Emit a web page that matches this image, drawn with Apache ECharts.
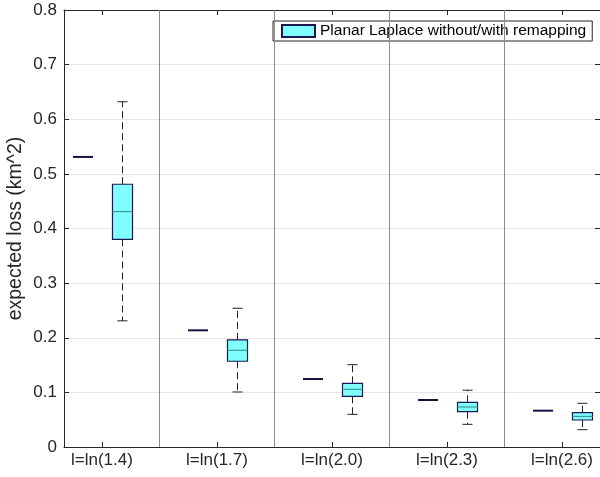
<!DOCTYPE html>
<html>
<head>
<meta charset="utf-8">
<script src="https://cdn.jsdelivr.net/npm/echarts@6/dist/echarts.min.js"></script>
<style>html,body{margin:0;padding:0;background:#fff}#c{width:600px;height:477px}</style>
</head>
<body>
<div id="c"></div>
<script>
const categories = ['l=ln(1.4)', 'l=ln(1.7)', 'l=ln(2.0)', 'l=ln(2.3)', 'l=ln(2.6)'];
const withoutRemap = [0.531, 0.2136, 0.1245, 0.086, 0.0665];
const whiskerLow  = [0.231, 0.1007, 0.0598, 0.0415, 0.0317];
const q1          = [0.380, 0.157, 0.0928, 0.0646, 0.0494];
const median      = [0.431, 0.177, 0.1056, 0.0732, 0.056];
const q3          = [0.481, 0.196, 0.1166, 0.0818, 0.0628];
const whiskerHigh = [0.632, 0.254, 0.1507, 0.104, 0.080];
const legendName = 'Planar Laplace without/with remapping';

const FONT = 'Liberation Sans, Arial, Helvetica, sans-serif';
const TXT = '#262626';
const idx = categories.map((c, i) => i);
const separators = idx.slice(1).map(i => ({ xAxis: i - 0.5 }));

const boxOffset = 0.174, boxHalf = 0.087, lineOffset = -0.165, lineHalf = 0.087;

const boxData = idx.map(i => [i, whiskerLow[i], q1[i], median[i], q3[i], whiskerHigh[i]]);
const lineData = idx.map(i => [i, withoutRemap[i]]);

const chart = echarts.init(document.getElementById('c'));
chart.setOption({
  animation: false,
  backgroundColor: '#fff',
  grid: { left: 64, right: 0, top: 10, bottom: 30, containLabel: false, outerBoundsMode: 'none' },
  legend: {
    data: [{ name: legendName, icon: 'rect' }],
    left: 273, top: 21,
    itemWidth: 33, itemHeight: 12,
    padding: [2, 6, 2, 8],
    borderColor: TXT, borderWidth: 1, borderRadius: 0,
    backgroundColor: '#fff',
    textStyle: { fontSize: 15.5, fontFamily: FONT, color: '#000' }
  },
  xAxis: [{
    type: 'value', min: -0.33, max: 4.33, position: 'bottom',
    axisLine: { show: true, onZero: false, lineStyle: { color: TXT } },
    axisTick: { show: true, inside: true, length: 5, customValues: idx, lineStyle: { color: TXT } },
    axisLabel: { show: true, customValues: idx, formatter: v => categories[Math.round(v)], fontSize: 17, fontFamily: FONT, color: TXT, margin: 5, hideOverlap: false },
    splitLine: { show: false }
  }, {
    type: 'value', min: -0.33, max: 4.33, position: 'top',
    axisLine: { show: true, onZero: false, lineStyle: { color: TXT } },
    axisTick: { show: true, inside: true, length: 5, customValues: idx, lineStyle: { color: TXT } },
    axisLabel: { show: false },
    splitLine: { show: false }
  }],
  yAxis: [{
    type: 'value', min: 0, max: 0.8, interval: 0.1, position: 'left',
    name: 'expected loss (km^2)', nameLocation: 'middle', nameGap: 38, nameMoveOverlap: false,
    nameTextStyle: { fontSize: 19.5, fontFamily: FONT, color: TXT },
    axisLine: { show: true, onZero: false, lineStyle: { color: TXT } },
    axisTick: { show: true, inside: true, length: 5, lineStyle: { color: TXT } },
    axisLabel: { fontSize: 17, fontFamily: FONT, color: TXT, margin: 7, formatter: v => String(Math.round(v * 10) / 10) },
    splitLine: { show: true, lineStyle: { color: '#e6e6e6', width: 1 } }
  }, {
    type: 'value', min: 0, max: 0.8, interval: 0.1, position: 'right',
    axisLine: { show: true, onZero: false, lineStyle: { color: TXT } },
    axisTick: { show: true, inside: true, length: 5, lineStyle: { color: TXT } },
    axisLabel: { show: false },
    splitLine: { show: false }
  }],
  series: [{
    name: 'without', type: 'custom', xAxisIndex: 0, yAxisIndex: 0,
    data: lineData,
    renderItem: (params, api) => {
      const i = api.value(0), v = api.value(1);
      const p1 = api.coord([i + lineOffset - lineHalf, v]);
      const p2 = api.coord([i + lineOffset + lineHalf, v]);
      return { type: 'line', shape: { x1: p1[0], y1: p1[1], x2: p2[0], y2: p2[1] }, style: { stroke: '#141440', lineWidth: 2 } };
    },
    markLine: {
      silent: true, symbol: 'none', label: { show: false },
      lineStyle: { color: '#8c8c8c', width: 1, type: 'solid' },
      data: separators
    }
  }, {
    name: legendName, type: 'custom', xAxisIndex: 0, yAxisIndex: 0,
    itemStyle: { color: '#80ffff', borderColor: '#1a1a50', borderWidth: 1 },
    data: boxData,
    renderItem: (params, api) => {
      const i = api.value(0);
      const x = i + boxOffset;
      const pLow = api.coord([x, api.value(1)]);
      const pQ1 = api.coord([x, api.value(2)]);
      const pMed = api.coord([x, api.value(3)]);
      const pQ3 = api.coord([x, api.value(4)]);
      const pHigh = api.coord([x, api.value(5)]);
      const hw = api.size([boxHalf, 0])[0];
      const cx = Math.round(pMed[0]) + 0.5;
      const capHw = hw / 2;
      const dash = { stroke: '#222', lineWidth: 1, lineDash: [7, 4] };
      const cap = { stroke: '#222', lineWidth: 1 };
      return {
        type: 'group',
        children: [
          { type: 'line', shape: { x1: cx, y1: pQ3[1], x2: cx, y2: pHigh[1] }, style: dash },
          { type: 'line', shape: { x1: cx, y1: pQ1[1], x2: cx, y2: pLow[1] }, style: dash },
          { type: 'line', shape: { x1: cx - capHw, y1: pHigh[1], x2: cx + capHw, y2: pHigh[1] }, style: cap },
          { type: 'line', shape: { x1: cx - capHw, y1: pLow[1], x2: cx + capHw, y2: pLow[1] }, style: cap },
          { type: 'rect', shape: { x: cx - hw, y: pQ3[1], width: 2 * hw, height: pQ1[1] - pQ3[1] }, style: { fill: '#80ffff', stroke: '#1a1a50', lineWidth: 1.2 } },
          { type: 'line', shape: { x1: cx - hw, y1: pMed[1], x2: cx + hw, y2: pMed[1] }, style: { stroke: '#3a9a9a', lineWidth: 1.2 } }
        ]
      };
    }
  }]
});
</script>
</body>
</html>
